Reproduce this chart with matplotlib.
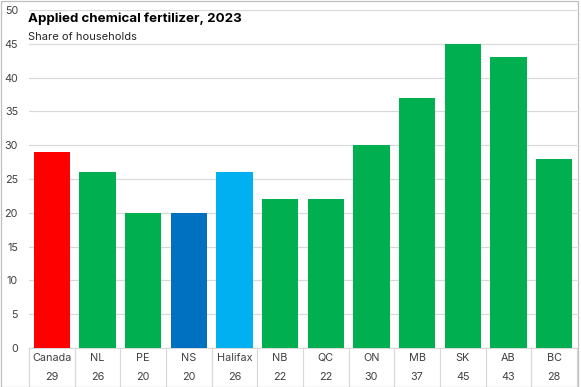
import matplotlib.pyplot as plt

categories = ['Canada', 'NL', 'PE', 'NS', 'Halifax', 'NB', 'QC', 'ON', 'MB', 'SK', 'AB', 'BC']
values = [29, 26, 20, 20, 26, 22, 22, 30, 37, 45, 43, 28]
colors = ['#FF0000', '#00B050', '#00B050', '#0070C0', '#00B0F0', '#00B050',
          '#00B050', '#00B050', '#00B050', '#00B050', '#00B050', '#00B050']

plt.rcParams['font.family'] = ['Inter', 'DejaVu Sans']

fig = plt.figure(figsize=(5.81, 3.87), dpi=100)
ax = fig.add_axes([0.05, 0.1008, 0.943, 0.8734])

x = range(len(categories))
ax.bar(x, values, width=0.8, color=colors, zorder=3)

ax.set_xlim(-0.5, len(categories) - 0.5)
ax.set_ylim(0, 50)
ax.set_yticks(range(0, 51, 5))
ax.tick_params(axis='y', length=0, labelsize=7.8, labelcolor='#404040', pad=8)
ax.set_xticks([])
ax.grid(axis='y', color='#D9D9D9', linewidth=0.9, zorder=0)
for s in ['top', 'right', 'left']:
    ax.spines[s].set_visible(False)
ax.spines['bottom'].set_color('#D9D9D9')

# category / value table under the axis
for i, (c, v) in enumerate(zip(categories, values)):
    ax.annotate(c, (i, 0), xytext=(0, -7.2), textcoords='offset points',
                ha='center', va='center', fontsize=7.8, color='#404040',
                annotation_clip=False)
    ax.annotate(str(v), (i, 0), xytext=(0, -21), textcoords='offset points',
                ha='center', va='center', fontsize=7.8, color='#404040',
                annotation_clip=False)
for b in range(len(categories) + 1):
    ax.plot([b - 0.5, b - 0.5], [0, -5.8], color='#D9D9D9', lw=0.9,
            clip_on=False, zorder=1)

ax.text(-0.002, 0.975, 'Applied chemical fertilizer, 2023', transform=ax.transAxes,
        fontsize=9.6, fontweight='bold', color='black', va='center')
ax.text(-0.002, 0.92, 'Share of households', transform=ax.transAxes,
        fontsize=8, color='#262626', va='center')

fig.patches.append(plt.Rectangle((0.001, 0.001), 0.993, 0.997, transform=fig.transFigure,
                                 fill=False, edgecolor='#BFBFBF', lw=0.9))

fig.savefig('out.png', dpi=100)
